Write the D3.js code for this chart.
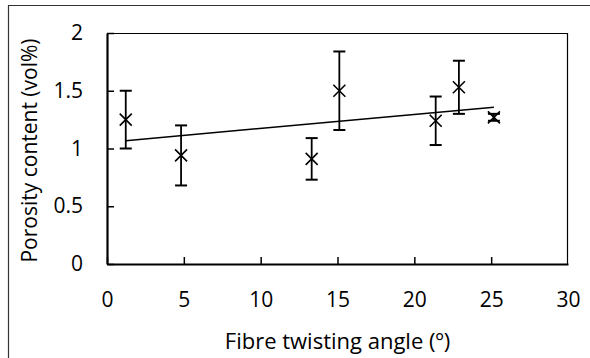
<!DOCTYPE html>
<html><head><meta charset="utf-8">
<script src="https://cdn.jsdelivr.net/npm/d3@7"></script>
<style>body{margin:0;background:#fff}svg{display:block}text{font-family:"Open Sans",sans-serif;fill:#000}</style>
</head><body>
<svg id="c" width="590" height="358"></svg>
<script>
const angles = [1.22, 4.82, 13.32, 15.12, 21.39, 22.9, 25.18];
const porosity = [1.25, 0.94, 0.91, 1.5, 1.24, 1.53, 1.27];
const errors = [0.25, 0.26, 0.18, 0.34, 0.21, 0.23, 0.03];
const trendX = [1.22, 25.18];
const trendY = [1.068, 1.358];
const xTicks = [0, 5, 10, 15, 20, 25, 30];
const yTicks = [0, 0.5, 1, 1.5, 2];
const xTitle = "Fibre twisting angle (º)";
const yTitle = "Porosity content (vol%)";

const svg = d3.select("#c");
const L = 107, R = 568, T = 33, B = 264;
const x = d3.scaleLinear().domain([0, 30]).range([L, R]);
const y = d3.scaleLinear().domain([0, 2]).range([B, T]);

// outer figure border
svg.append("path").attr("d", "M8.5,358 V5.5 H590").attr("fill", "none").attr("stroke", "#333").attr("stroke-width", 1.2);

// plot frame (top/right)
svg.append("path").attr("d", `M${L},${T+0.5} H${R-0.5} V${B}`).attr("fill", "none").attr("stroke", "#000").attr("stroke-width", 1.2);

const fs = 22;
const xa = svg.append("g").attr("transform", `translate(0,${B})`)
  .call(d3.axisBottom(x).tickValues(xTicks).tickSizeInner(-7).tickSizeOuter(0).tickPadding(27).tickFormat(d3.format("d")));
const ya = svg.append("g").attr("transform", `translate(${L},0)`)
  .call(d3.axisLeft(y).tickValues(yTicks).tickSizeInner(-7).tickSizeOuter(0).tickPadding(24).tickFormat(d => String(d)));
[xa, ya].forEach(a => {
  a.select(".domain").attr("stroke", "#000").attr("stroke-width", 2.2);
  a.selectAll(".tick line").attr("stroke", "#000").attr("stroke-width", 1.5);
  a.selectAll(".tick text").style("font-size", "21px").style("font-family", '"Open Sans",sans-serif').attr("fill", "#000");
});
xa.selectAll(".tick text").attr("dy", "0.75em");
xa.selectAll(".tick").filter(d => d === 30).select("line").remove();

// trendline
svg.append("line")
  .attr("x1", x(trendX[0])).attr("y1", y(trendY[0]))
  .attr("x2", x(trendX[1])).attr("y2", y(trendY[1]))
  .attr("stroke", "#000").attr("stroke-width", 1.5);

// error bars
const pts = angles.map((a, i) => ({a, p: porosity[i], e: errors[i]}));
const eb = svg.append("g").attr("stroke", "#000").attr("stroke-width", 1.8);
pts.forEach(d => {
  const cx = x(d.a), y1 = y(d.p + d.e), y2 = y(d.p - d.e);
  eb.append("line").attr("x1", cx).attr("x2", cx).attr("y1", y1).attr("y2", y2);
  eb.append("line").attr("x1", cx - 6).attr("x2", cx + 6).attr("y1", y1).attr("y2", y1).attr("stroke-width", 2);
  eb.append("line").attr("x1", cx - 6).attr("x2", cx + 6).attr("y1", y2).attr("y2", y2).attr("stroke-width", 2);
});

// markers
const mk = svg.append("g").attr("stroke", "#000").attr("stroke-width", 1.6);
pts.forEach(d => {
  const cx = x(d.a), cy = y(d.p), s = 6;
  mk.append("path").attr("d", `M${cx-s},${cy-s}L${cx+s},${cy+s}M${cx-s},${cy+s}L${cx+s},${cy-s}`);
});

// titles
svg.append("text").attr("x", (L + R) / 2).attr("y", 349).attr("text-anchor", "middle")
  .style("font-size", fs + "px").text(xTitle);
svg.append("text").attr("transform", `translate(37,${(T + B) / 2 + 2}) rotate(-90)`).attr("text-anchor", "middle")
  .style("font-size", "21px").text(yTitle);
</script>
</body></html>
